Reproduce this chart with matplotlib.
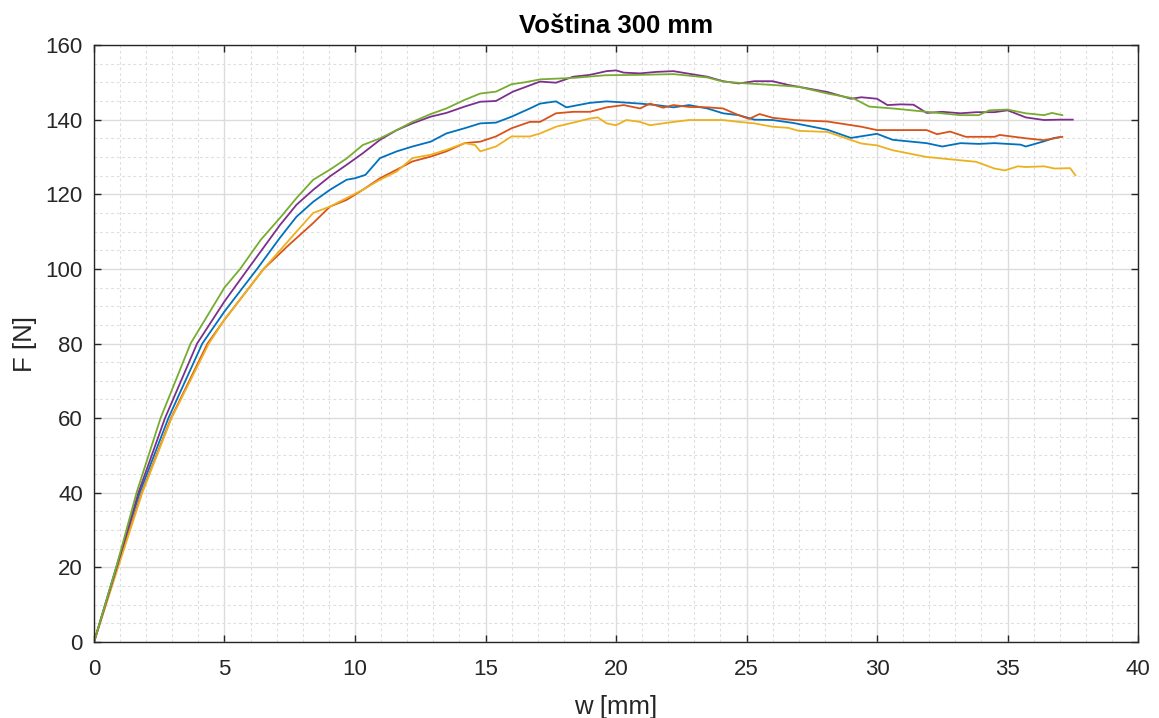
import matplotlib
matplotlib.use("Agg")
import matplotlib.pyplot as plt
from matplotlib.ticker import MultipleLocator

plt.rcParams['font.family'] = ['Liberation Sans', 'DejaVu Sans']

# values
blue_w = [0, 0.85, 1.75, 2.85, 4.15, 5.0, 6.25, 7.13, 7.76, 8.4, 9.04, 9.68, 10.0, 10.4, 10.96,
          11.6, 12.2, 12.9, 13.5, 14.2, 14.8, 15.4, 16.0, 16.7, 17.09, 17.7, 18.1, 19.0, 19.64,
          20.3, 20.92, 21.56, 22.2, 22.8, 23.5, 24.1, 24.7, 25.3, 26.0, 26.8, 28.1, 29.0, 30.0,
          30.6, 31.9, 32.5, 33.2, 33.9, 34.5, 35.5, 35.7, 36.4, 36.8, 37.0]
blue_F = [0, 20, 40, 60, 80, 88.6, 100, 108.4, 114, 118, 121.2, 123.9, 124.3, 125.2, 129.7,
          131.5, 132.8, 134.1, 136.3, 137.7, 139, 139.2, 140.8, 143, 144.3, 144.9, 143.3, 144.5, 144.9,
          144.6, 144.3, 143.9, 143.3, 143.9, 143, 141.7, 141.2, 140, 139.9, 139.1, 137.3, 135.1, 136.2,
          134.6, 133.7, 132.8, 133.7, 133.5, 133.7, 133.3, 132.8, 134.2, 135.1, 135.3]

orange_w = [0, 0.9, 1.83, 2.95, 4.35, 5.0, 6.5, 7.4, 8.4, 9.04, 9.68, 10.3, 10.96, 11.6, 12.2,
            12.9, 13.5, 14.2, 14.8, 15.4, 16.0, 16.7, 17.09, 17.7, 18.36, 19.0, 19.64, 20.3, 20.92,
            21.3, 21.8, 22.2, 22.8, 23.5, 24.1, 24.7, 25.1, 25.5, 26.0, 26.8, 28.1, 29.4, 30.0,
            31.9, 32.3, 32.8, 33.4, 34.5, 34.7, 35.7, 36.4, 37.1]
orange_F = [0, 20, 40, 60, 80, 86.4, 100, 106, 112.3, 116.7, 118.5, 121.2, 124.3, 126.6, 128.8,
            130.1, 131.5, 133.7, 134.1, 135.5, 137.7, 139.4, 139.4, 141.7, 142.1, 142.1, 143.3, 143.9, 143,
            144.3, 143.2, 143.9, 143.4, 143.3, 143, 141.2, 140.2, 141.5, 140.5, 139.9, 139.5, 138.1, 137.2,
            137.2, 136.1, 136.8, 135.4, 135.4, 135.9, 135, 134.5, 135.4]

yellow_w = [0, 0.92, 1.85, 2.97, 4.4, 5.0, 6.5, 7.76, 8.4, 9.04, 9.68, 10.3, 10.96, 11.6, 12.2,
            12.9, 13.5, 14.2, 14.6, 14.8, 15.4, 16.0, 16.7, 17.09, 17.7, 18.36, 19.0, 19.3, 19.64,
            20.0, 20.4, 20.92, 21.3, 22.0, 22.8, 24.1, 24.7, 25.3, 26.0, 26.6, 27.0, 28.1, 29.4,
            30.0, 30.6, 31.9, 33.2, 33.8, 34.5, 34.9, 35.4, 35.7, 36.4, 36.8, 37.4, 37.6]
yellow_F = [0, 20, 40, 60, 80, 86.4, 100, 110, 115, 116.7, 119, 121.2, 123.9, 126.1, 129.7,
            130.6, 131.9, 133.7, 133.2, 131.5, 132.8, 135.5, 135.5, 136.3, 138.1, 139.2, 140.3, 140.6, 139,
            138.5, 139.9, 139.4, 138.5, 139.2, 139.9, 139.9, 139.4, 139, 138.1, 137.8, 137, 136.7, 133.6,
            133.1, 131.8, 130, 129.1, 128.7, 126.9, 126.4, 127.5, 127.3, 127.5, 126.9, 127, 125.1]

purple_w = [0, 0.87, 1.7, 2.72, 3.95, 5.0, 5.9, 7.13, 7.76, 8.4, 9.04, 9.68, 10.3, 10.96, 11.6,
            12.2, 12.9, 13.5, 14.2, 14.8, 15.4, 16.05, 17.09, 17.7, 18.36, 19.0, 19.64, 20.0, 20.3,
            20.92, 21.56, 22.2, 22.8, 23.5, 24.1, 24.7, 25.3, 26.0, 26.6, 27.0, 28.1, 29.0, 29.4,
            30.0, 30.4, 30.9, 31.4, 31.9, 32.5, 33.2, 33.8, 34.5, 35.0, 35.7, 36.4, 37.0, 37.5]
purple_F = [0, 20, 40, 60, 80, 91.3, 100, 111.8, 117.2, 121.2, 124.8, 127.9, 131, 134.6, 137.2,
            139, 140.8, 141.8, 143.5, 144.8, 145, 147.5, 150.2, 149.9, 151.5, 152, 153, 153.2, 152.6,
            152.4, 152.8, 153, 152.3, 151.5, 150.3, 149.7, 150.3, 150.3, 149.3, 148.8, 147.4, 145.6, 146.0,
            145.6, 143.9, 144.1, 144, 141.8, 142.1, 141.7, 142, 142, 142.5, 140.6, 139.9, 140, 140]

green_w = [0, 0.85, 1.63, 2.55, 3.7, 5.0, 5.6, 6.39, 7.13, 7.76, 8.4, 9.04, 9.68, 10.3, 10.96,
           11.6, 12.2, 12.9, 13.5, 14.2, 14.8, 15.4, 16.0, 16.5, 17.1, 18.4, 19.6, 20.9, 22.2,
           23.5, 24.1, 25.0, 26.0, 27.0, 28.1, 29.1, 29.7, 30.6, 31.9, 33.2, 33.9, 34.3, 35.0,
           35.7, 36.4, 36.7, 37.1]
green_F = [0, 20, 40, 60, 80, 95, 100, 107.8, 113.7, 119, 123.9, 126.6, 129.6, 133.2, 135,
           137.2, 139.4, 141.5, 143, 145.3, 147, 147.5, 149.5, 150, 150.8, 151.2, 151.9, 152, 152.2,
           151.3, 150.2, 149.7, 149.3, 148.8, 147.0, 145.7, 143.5, 143, 142.1, 141.2, 141.2, 142.5, 142.7,
           141.7, 141.2, 141.8, 141.2]

series = [
    (blue_w, blue_F, '#0072BD'),
    (orange_w, orange_F, '#D95319'),
    (yellow_w, yellow_F, '#EDB120'),
    (purple_w, purple_F, '#7E2F8E'),
    (green_w, green_F, '#77AC30'),
]

fig = plt.figure(figsize=(11.59, 7.18), dpi=100)
ax = fig.add_axes([0.0811, 0.1058, 0.9008, 0.8315])

for w, F, c in series:
    ax.plot(w, F, color=c, linewidth=1.3)

ax.set_xlim(0, 40)
ax.set_ylim(0, 160)
ax.xaxis.set_major_locator(MultipleLocator(5))
ax.xaxis.set_minor_locator(MultipleLocator(1))
ax.yaxis.set_major_locator(MultipleLocator(20))
ax.yaxis.set_minor_locator(MultipleLocator(5))

ax.grid(which='major', color='#dcdcdc', linewidth=1.0, linestyle='-')
ax.grid(which='minor', color='#dedede', linewidth=0.8, linestyle=(0, (2.5, 2.5)))
ax.set_axisbelow(True)

ax.tick_params(which='major', direction='in', length=5, width=1, colors='#262626',
               top=True, right=True, labelsize=16)
ax.tick_params(axis='x', which='major', pad=12)
ax.tick_params(axis='y', which='major', pad=8)
ax.tick_params(which='minor', length=0, top=True, right=True)
for s in ax.spines.values():
    s.set_color('#262626')
    s.set_linewidth(1.0)

ax.set_xlabel('w [mm]', fontsize=18.5, color='#262626', labelpad=11)
ax.set_ylabel('F [N]', fontsize=18.5, color='#262626', labelpad=6)
ax.set_title('Voština 300 mm', fontsize=18.5, fontweight='bold', color='black', pad=9)

fig.savefig('out.png', dpi=100)
